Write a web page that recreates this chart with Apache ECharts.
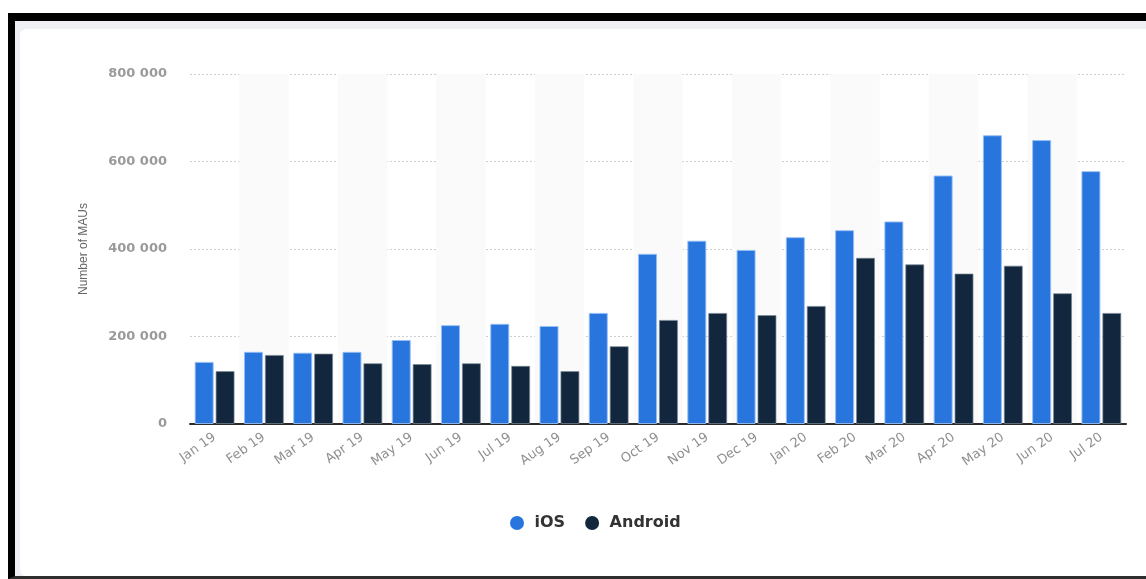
<!DOCTYPE html>
<html>
<head>
<meta charset="utf-8">
<script src="https://cdn.jsdelivr.net/npm/echarts@6/dist/echarts.min.js"></script>
<style>
  html, body { margin: 0; padding: 0; width: 1146px; height: 579px; overflow: hidden; background: #ffffff; }
  #frame {
    position: absolute; left: 8px; top: 13px; width: 1150px; height: 566px;
    box-sizing: border-box;
    border-left: 7px solid #000; border-top: 8px solid #000; border-bottom: 3px solid #2e2e2e;
    background: #eef0f3;
  }
  #card {
    position: absolute; left: 20px; top: 29px; width: 1140px; height: 547px;
    background: #ffffff; border-radius: 6px;
  }
  #chart { position: absolute; left: 0; top: 0; width: 1146px; height: 579px; }
</style>
</head>
<body>
<div id="frame"></div>
<div id="card"></div>
<div id="chart"></div>
<script>
// Monthly active users by platform
const categories = ['Jan 19', 'Feb 19', 'Mar 19', 'Apr 19', 'May 19', 'Jun 19', 'Jul 19', 'Aug 19', 'Sep 19',
  'Oct 19', 'Nov 19', 'Dec 19', 'Jan 20', 'Feb 20', 'Mar 20', 'Apr 20', 'May 20', 'Jun 20', 'Jul 20'];
const iosValues = [142000, 165000, 163000, 165000, 192000, 226000, 229000, 224000, 254000,
  389000, 419000, 398000, 427000, 443000, 463000, 568000, 660000, 649000, 578000];
const androidValues = [121000, 158000, 161000, 139000, 137000, 139000, 133000, 121000, 178000,
  238000, 254000, 249000, 270000, 380000, 365000, 344000, 362000, 299000, 254000];
const yTicks = { min: 0, max: 800000, interval: 200000 };

const fmt = v => String(v).replace(/\B(?=(\d{3})+(?!\d))/g, ' ');

const chart = echarts.init(document.getElementById('chart'), null, { renderer: 'canvas' });
chart.setOption({
  backgroundColor: 'transparent',
  animation: false,
  grid: { left: 190, right: 20, top: 74, bottom: 155, containLabel: false },
  legend: {
    left: 505, top: 510,
    itemWidth: 19, itemHeight: 14, itemGap: 20,
    icon: 'circle',
    itemStyle: { borderWidth: 0 },
    textStyle: { fontFamily: 'DejaVu Sans', fontSize: 16, fontWeight: 'bold', color: '#333', padding: [0, 0, 0, 3] },
    data: ['iOS', 'Android']
  },
  xAxis: {
    type: 'category',
    data: categories,
    axisLine: { lineStyle: { color: '#2b2b2b', width: 2 } },
    axisTick: { show: false },
    axisLabel: {
      rotate: 35, margin: 12, interval: 0,
      fontFamily: 'DejaVu Sans', fontSize: 13, color: '#8f8f8f'
    },
    splitArea: { show: true, areaStyle: { color: ['rgba(0,0,0,0)', '#fafafb'] } }
  },
  yAxis: {
    type: 'value',
    min: yTicks.min, max: yTicks.max, interval: yTicks.interval,
    name: 'Number of MAUs',
    nameLocation: 'middle', nameGap: 100, nameRotate: 90,
    nameTextStyle: { fontFamily: 'Liberation Sans', fontSize: 12, color: '#666' },
    axisLine: { show: false },
    axisTick: { show: false },
    axisLabel: {
      margin: 23, formatter: fmt,
      fontFamily: 'DejaVu Sans', fontSize: 13, fontWeight: 'bold', color: '#9a9a9a'
    },
    splitLine: { lineStyle: { color: '#cfcfcf', type: [2, 2], width: 1 } }
  },
  series: [
    {
      name: 'iOS', type: 'bar', data: iosValues,
      barWidth: 19, barGap: '10%',
      itemStyle: { color: '#2876dd', borderColor: 'rgba(150,190,245,0.9)', borderWidth: 1 }
    },
    {
      name: 'Android', type: 'bar', data: androidValues,
      barWidth: 19, barGap: '10%',
      itemStyle: { color: '#12263d', borderColor: 'rgba(120,135,150,0.7)', borderWidth: 1 }
    }
  ]
});
</script>
</body>
</html>
